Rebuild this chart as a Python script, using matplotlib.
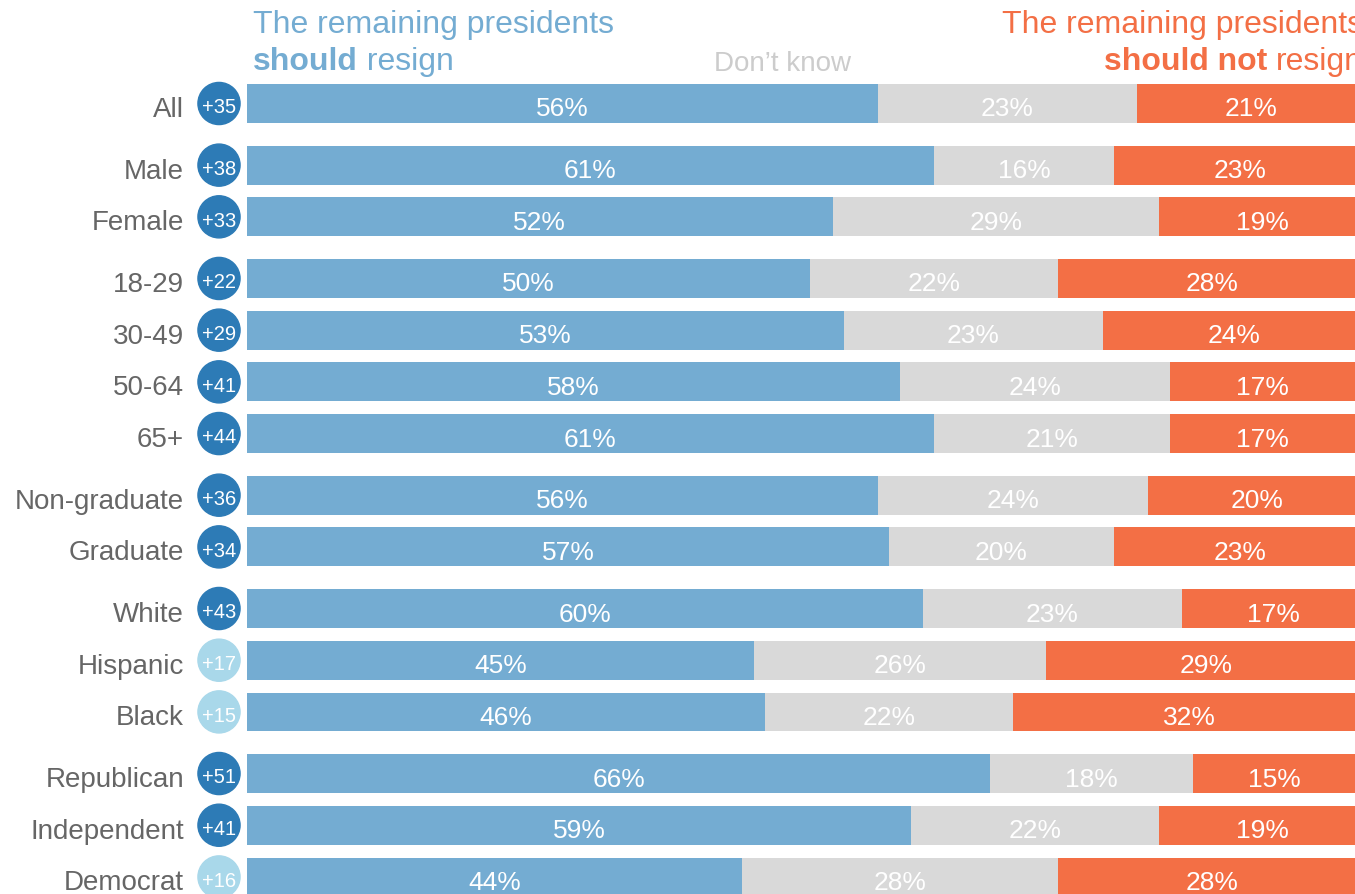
import matplotlib
matplotlib.use("Agg")
import matplotlib.pyplot as plt

plt.rcParams['font.family'] = ['Liberation Sans', 'DejaVu Sans']

groups = ['All', 'Male', 'Female', '18-29', '30-49', '50-64', '65+',
          'Non-graduate', 'Graduate', 'White', 'Hispanic', 'Black',
          'Republican', 'Independent', 'Democrat']
group_breaks = [1, 3, 7, 9, 12]   # index where a new block starts
should = [56, 61, 52, 50, 53, 58, 61, 56, 57, 60, 45, 46, 66, 59, 44]
dont_know = [23, 16, 29, 22, 23, 24, 21, 24, 20, 23, 26, 22, 18, 22, 28]
should_not = [21, 23, 19, 28, 24, 17, 17, 20, 23, 17, 29, 32, 15, 19, 28]
# net scores as printed (computed from unrounded figures in the source)
net = [35, 38, 33, 22, 29, 41, 44, 36, 34, 43, 17, 15, 51, 41, 16]

BLUE = '#74acd2'
GREY = '#d9d9d9'
ORANGE = '#f36f45'
DARK = '#2d7bb6'
LIGHT = '#a9d8ea'
LABEL = '#666666'

# y positions with a little extra gap between blocks
gap = 0.192
ypos = []
for i in range(len(groups)):
    ypos.append(i + gap * sum(1 for b in group_breaks if i >= b))

fig = plt.figure(figsize=(13.55, 8.95), dpi=100)
ax = fig.add_axes([0, 0, 1, 1])
px = 11.26   # pixels per percent
py = 51.7    # pixels per row
y0 = 104.5   # pixel row of first bar centre
ax.set_xlim(-247 / px, (1355 - 247) / px)
ax.set_ylim((895 - y0) / py, -y0 / py)
ax.axis('off')

h = 0.75
ax.barh(ypos, should, height=h, color=BLUE)
ax.barh(ypos, dont_know, left=should, height=h, color=GREY)
left3 = [a + b for a, b in zip(should, dont_know)]
ax.barh(ypos, should_not, left=left3, height=h, color=ORANGE)

dy = 2.5 / py  # text sits a touch below bar centre
for y, a, b, c in zip(ypos, should, dont_know, should_not):
    ax.text(a / 2, y + dy, f'{a}%', ha='center', va='center_baseline', color='white', fontsize=19)
    ax.text(a + b / 2, y + dy, f'{b}%', ha='center', va='center_baseline', color='white', fontsize=19)
    ax.text(a + b + c / 2 - 0.3, y + dy, f'{c}%', ha='center', va='center_baseline',
            color='white', fontsize=19)

# net score bubbles
cx = (219 - 247) / px
ax.scatter([cx] * len(ypos), ypos, s=920,
           c=[DARK if n >= 20 else LIGHT for n in net], clip_on=False, zorder=3)
for y, n in zip(ypos, net):
    ax.text(cx, y + dy / 2, f'+{n}', ha='center', va='center_baseline', color='white',
            fontsize=14.5, zorder=4)

# row labels
for y, g in zip(ypos, groups):
    ax.text((184 - 247) / px, y + dy, g, ha='right', va='center_baseline',
            color=LABEL, fontsize=20)

# headers
def ypix(p):
    return (p - y0) / py

hx = (253 - 247) / px
ax.text(hx, ypix(33), 'The remaining presidents', color=BLUE,
        fontsize=23, va='baseline', ha='left')
t1 = ax.text(hx, ypix(70), 'should', color=BLUE, fontsize=23,
             fontweight='bold', va='baseline', ha='left')
ax.annotate(' resign', xy=(1, 0), xycoords=t1, va='bottom', ha='left',
            color=BLUE, fontsize=23)

rx = (1363 - 247) / px
ax.text(rx, ypix(33), 'The remaining presidents', color=ORANGE,
        fontsize=23, va='baseline', ha='right')
t2 = ax.text(rx, ypix(70), 'resign', color=ORANGE, fontsize=23,
             va='baseline', ha='right')
ax.annotate('should not ', xy=(0, 0), xycoords=t2, va='bottom', ha='right',
            color=ORANGE, fontsize=23, fontweight='bold')

ax.text((782 - 247) / px, ypix(71), 'Don\u2019t know', color='#cccccc',
        fontsize=20, va='baseline', ha='center')

fig.savefig('out.png', dpi=100)
